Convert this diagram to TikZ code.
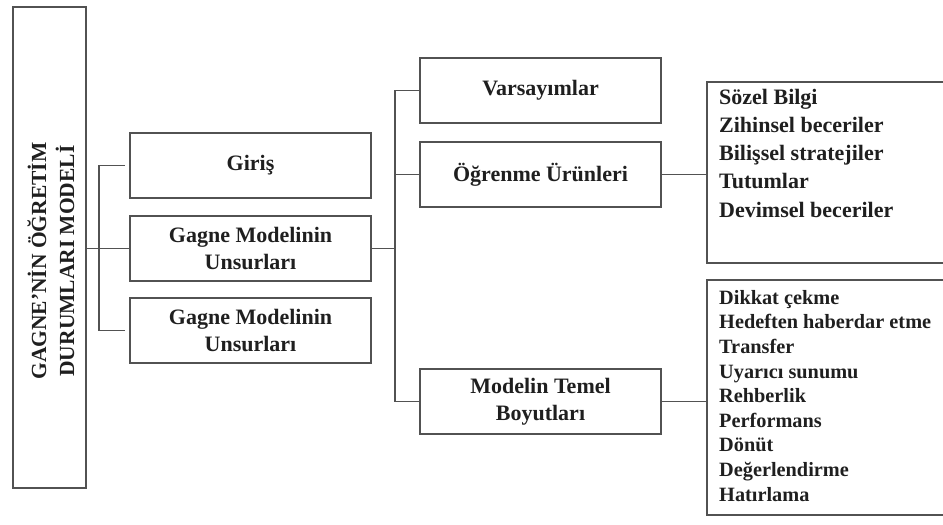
\documentclass[tikz,border=0pt]{standalone}
\usepackage{fontspec}
\setmainfont{Liberation Serif}
\begin{document}
\begin{tikzpicture}[x=1pt,y=-1pt,
  line/.style={draw=black!68, line width=1.7pt},
  box/.style={line, minimum width=241pt, minimum height=65pt, inner sep=0pt, align=center,
    text=black!88, font=\fontsize{22}{26.5}\selectfont\bfseries},
  listtext/.style={inner sep=0pt, align=left, anchor=base west, text=black!88},
]
\useasboundingbox (0,0) rectangle (943,525);
% left title box
\node[line, minimum width=73pt, minimum height=481pt, inner sep=0pt] (T) at (49.5,247.5) {};
\node[rotate=90, align=center, inner sep=0pt, text=black!88,
  font=\fontsize{21.5}{28}\selectfont\bfseries] (Ttext) at (51,261) {GAGNE'NİN ÖĞRETİM\\DURUMLARI MODELİ};
% second column
\node[box] (G1) at (250.5,165.5) {Giriş};
\node[box] (G2) at (250.5,248.5) {Gagne Modelinin\\Unsurları};
\node[box] (G3) at (250.5,330.5) {Gagne Modelinin\\Unsurları};
% third column
\node[box] (V) at (540.5,90.5) {Varsayımlar};
\node[box] (O) at (540.5,174.5) {Öğrenme Ürünleri};
\node[box] (M) at (540.5,401.5) {Modelin Temel\\Boyutları};
% right boxes
\node[line, minimum width=240pt, minimum height=181pt, inner sep=0pt] (R1) at (827,172.5) {};
\node[line, minimum width=240pt, minimum height=235pt, inner sep=0pt] (R2) at (827,397.5) {};
\node[listtext, font=\fontsize{22}{28.25}\selectfont\bfseries] (L1) at (719,217)
  {Sözel Bilgi\\Zihinsel beceriler\\Bilişsel stratejiler\\Tutumlar\\Devimsel beceriler};
\node[listtext, font=\fontsize{20.3}{24.6}\selectfont\bfseries] (L2) at (719,501)
  {Dikkat çekme\\Hedeften haberdar etme\\Transfer\\Uyarıcı sunumu\\Rehberlik\\Performans\\Dönüt\\Değerlendirme\\Hatırlama};
% connectors
\coordinate (b1) at ([xshift=-4pt]G1.west);
\coordinate (b3) at ([xshift=-4pt]G3.west);
\draw[line] (T.east |- G2.west) -- (G2.west);
\draw[line] (b1) -- ++(-26,0) |- (b3);
\coordinate (s) at ([xshift=23pt]G2.east);
\draw[line] (G2.east) -- (s);
\draw[line] (V.west) -| (s |- M.west) -- (M.west);
\draw[line] (O.west) -- (s |- O.west);
\draw[line] (O.east) -- (O.east -| R1.west);
\draw[line] (M.east) -- (M.east -| R2.west);
\end{tikzpicture}
\end{document}
